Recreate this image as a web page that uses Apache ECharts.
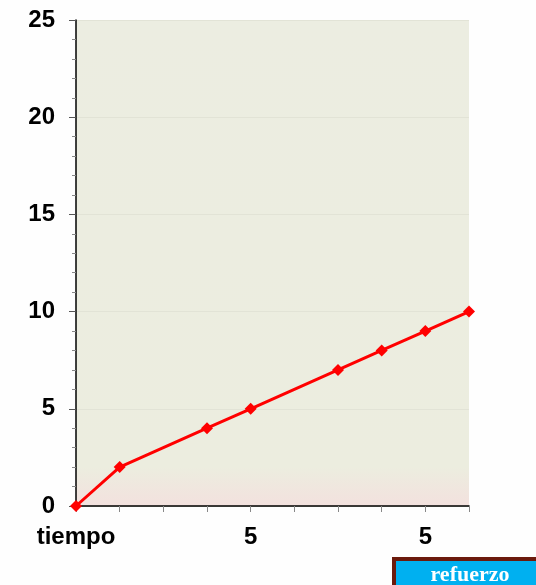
<!DOCTYPE html>
<html>
<head>
<meta charset="utf-8">
<script src="https://cdn.jsdelivr.net/npm/echarts@6/dist/echarts.min.js"></script>
<style>
  html, body { margin: 0; padding: 0; background: #fefefe; }
  #chart { width: 536px; height: 585px; }
</style>
</head>
<body>
<div id="chart"></div>
<script>
var categorias = ['tiempo', '', '', '', '5', '', '', '', '5', ''];
var valores = [0, 2, null, 4, 5, null, 7, 8, 9, 10];
var yMin = 0, yMax = 25, yPaso = 5;

var chart = echarts.init(document.getElementById('chart'), null, {renderer: 'canvas'});

chart.setOption({
    backgroundColor: '#fefefe',
    animation: false,
    grid: {
        left: 76, right: 67, top: 20, bottom: 79,
        show: true,
        borderWidth: 0,
        backgroundColor: {
            type: 'linear', x: 0, y: 0, x2: 0, y2: 1,
            colorStops: [
                {offset: 0, color: '#ecede1'},
                {offset: 0.92, color: '#eceddf'},
                {offset: 1, color: '#f3e1de'}
            ]
        }
    },
    xAxis: {
        type: 'category',
        data: categorias,
        boundaryGap: false,
        axisLine: {lineStyle: {color: '#000', width: 1.5}},
        axisTick: {show: true, interval: 0, length: 6, lineStyle: {color: '#888'}},
        axisLabel: {
            interval: 3,
            margin: 19,
            color: '#000',
            fontFamily: 'Liberation Sans, Arial',
            fontWeight: 'bold',
            fontSize: 24
        },
        splitLine: {show: false}
    },
    yAxis: {
        type: 'value',
        min: yMin, max: yMax, interval: yPaso,
        axisLine: {show: true, lineStyle: {color: '#000', width: 1.5}},
        axisTick: {show: true, length: 7, lineStyle: {color: '#555'}},
        minorTick: {show: true, splitNumber: 5, length: 4, lineStyle: {color: '#888'}},
        axisLabel: {
            margin: 21,
            color: '#000',
            fontFamily: 'Liberation Sans, Arial',
            fontWeight: 'bold',
            fontSize: 24
        },
        splitLine: {show: true, lineStyle: {color: '#e2e3d6', width: 1}}
    },
    series: [{
        type: 'line',
        data: valores,
        connectNulls: true,
        symbol: 'diamond',
        symbolSize: 12,
        lineStyle: {color: '#ff0000', width: 3},
        itemStyle: {color: '#ff0000'}
    }],
    graphic: [{
        type: 'group',
        left: 392,
        top: 557,
        children: [{
            type: 'rect',
            shape: {x: 0, y: 0, width: 160, height: 34},
            style: {fill: '#00b0f0', stroke: '#6b1a0c', lineWidth: 4}
        }, {
            type: 'text',
            x: 76, y: 16,
            style: {
                text: 'refuerzo',
                fill: '#fff',
                font: 'bold 22px "Liberation Serif", serif',
                align: 'center',
                verticalAlign: 'middle'
            }
        }]
    }]
});
</script>
</body>
</html>
